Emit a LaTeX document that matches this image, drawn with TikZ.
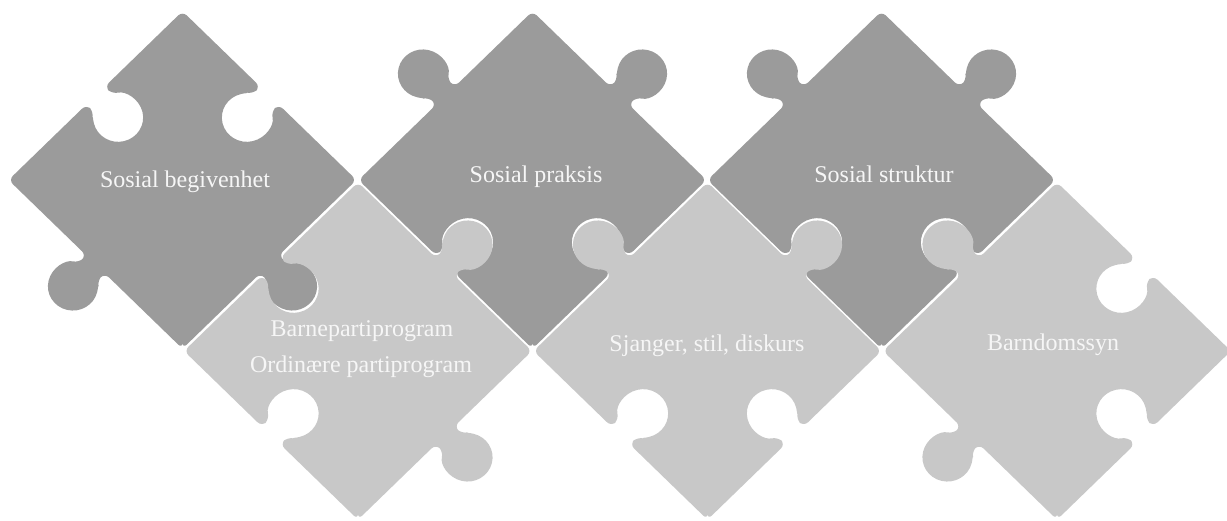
\documentclass[tikz,border=0pt]{standalone}
\usepackage{fontspec}
\setmainfont{Liberation Serif}
\definecolor{darkpiece}{RGB}{155,155,155}
\definecolor{lightpiece}{RGB}{200,200,200}
\definecolor{labeltext}{RGB}{246,246,246}
\def\pa{123.0}
\def\pr{25}
\def\pn{13}
\def\ph{10.65}
\def\pphi{58.67}
\newcommand\pedge[1]{-- (-\pn,-\pa) -- (-\pn,{-\pa-(#1)*\ph}) arc[start angle={180-(#1)*\pphi}, end angle={180+(#1)*(180+\pphi)}, radius=\pr] -- (\pn,-\pa) -- (\pa,-\pa)}
\newcommand\puzzlepiece[7]{%
  \begin{scope}[shift={(#1,{520-#2})}, yscale=0.97, rotate=45]
    \fill[#3, rounded corners=6pt] (-\pa,-\pa) \pedge{#4} {[rotate=90] \pedge{#5}} {[rotate=180] \pedge{#6}} {[rotate=270] \pedge{#7}} -- cycle;
  \end{scope}}
\tikzset{lbl/.style={text=labeltext, font=\fontsize{24pt}{36pt}\selectfont, anchor=base, inner sep=0pt}}
\begin{document}
\begin{tikzpicture}[x=1pt,y=1pt]
\useasboundingbox (0,0) rectangle (1227,520);
% dark row
\puzzlepiece{182.5}{180}{darkpiece}{1}{-1}{-1}{1}
\puzzlepiece{532.5}{180}{darkpiece}{-1}{1}{1}{-1}
\puzzlepiece{881.5}{180}{darkpiece}{-1}{1}{1}{-1}
% light row
\puzzlepiece{358}{351}{lightpiece}{1}{1}{-1}{-1}
\puzzlepiece{707.5}{351}{lightpiece}{-1}{1}{1}{-1}
\puzzlepiece{1057}{351}{lightpiece}{-1}{-1}{1}{1}
% labels
\node[lbl] (t1) at (185,{520-188}) {Sosial begivenhet};
\node[lbl] (t2) at (536,{520-183}) {Sosial praksis};
\node[lbl] (t3) at (884,{520-183}) {Sosial struktur};
\node[lbl] (t4) at (362,{520-337}) {Barnepartiprogram};
\node[lbl] (t5) at (361,{520-373}) {Ordinære partiprogram};
\node[lbl] (t6) at (707,{520-352}) {Sjanger, stil, diskurs};
\node[lbl] (t7) at (1053,{520-351}) {Barndomssyn};
\end{tikzpicture}
\end{document}
